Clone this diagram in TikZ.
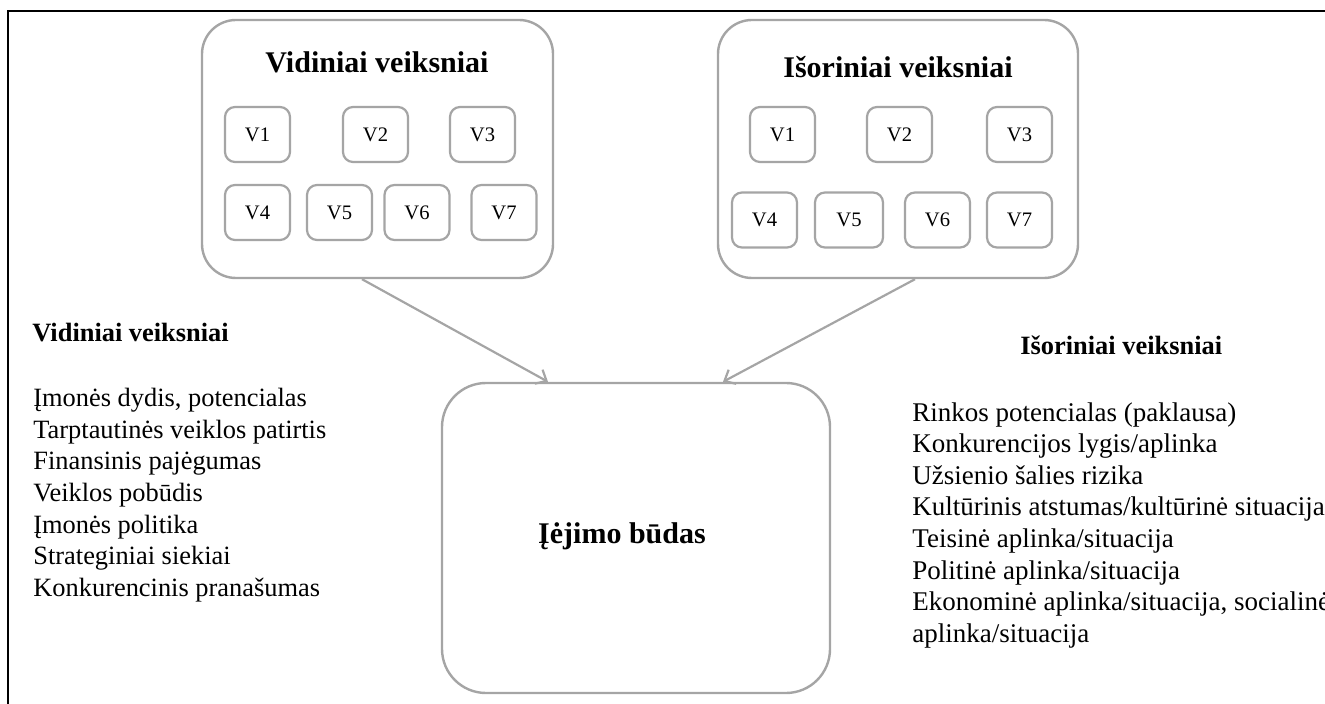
\documentclass[tikz,border=0pt]{standalone}
\usepackage{fontspec}
\setmainfont{Liberation Serif}
\usetikzlibrary{arrows.meta}
\definecolor{boxgray}{RGB}{165,165,165}
\begin{document}
\begin{tikzpicture}[x=0.5pt,y=-0.5pt,
  bigbox/.style={draw=boxgray, line width=1.2pt, rounded corners=17pt, fill=white, inner sep=0pt},
  vbox/.style={draw=boxgray, line width=1.1pt, rounded corners=5pt, minimum width=32.5pt, minimum height=27.5pt, inner sep=0pt, font=\fontsize{10.3}{12}\selectfont},
  title/.style={font=\fontsize{15}{18}\selectfont\bfseries, anchor=base, inner sep=0pt},
  head/.style={font=\fontsize{13.2}{15.8}\selectfont\bfseries, anchor=base west, inner sep=0pt},
  list/.style={font=\fontsize{13.2}{15.8}\selectfont, align=left, anchor=north west, inner sep=0pt},
  arr/.style={draw=boxgray, line width=1.1pt, -{Straight Barb[length=4.5pt,width=8pt]}}
]
\useasboundingbox (0,0) rectangle (1325,704);
\clip (0,0) rectangle (1325,704);
% frame
\coordinate (f1) at (8,704);
\coordinate (f2) at (8,11);
\coordinate (f3) at (1325,11);
\draw[line width=1pt, line join=miter] (f1) -- (f2) -- (f3);

% left group
\node[bigbox, minimum width=175.5pt, minimum height=129pt] (L) at (377.5,149) {};
\node[title] (Lt) at (377,73) {Vidiniai veiksniai};
\node[vbox] (L1) at (257.5,134.5) {V1};
\node[vbox] (L2) at (375.5,134.5) {V2};
\node[vbox] (L3) at (482.5,134.5) {V3};
\node[vbox] (L4) at (257.5,212.5) {V4};
\node[vbox] (L5) at (339.5,212.5) {V5};
\node[vbox] (L6) at (417,212.5) {V6};
\node[vbox] (L7) at (504,212.5) {V7};

% right group
\node[bigbox, minimum width=180pt, minimum height=129pt] (R) at (898,149) {};
\node[title] (Rt) at (898,78) {Išoriniai veiksniai};
\node[vbox] (R1) at (782.5,134.5) {V1};
\node[vbox] (R2) at (899.5,134.5) {V2};
\node[vbox] (R3) at (1019.5,134.5) {V3};
\node[vbox] (R4) at (764.5,220) {V4};
\node[vbox, minimum width=34pt] (R5) at (849,220) {V5};
\node[vbox] (R6) at (937.5,220) {V6};
\node[vbox] (R7) at (1019.5,220) {V7};

% centre
\node[bigbox, rounded corners=22pt, minimum width=194pt, minimum height=155pt] (C) at (636,538) {};
\node[title] (Ct) at (622,543) {Įėjimo būdas};

\draw[arr] ([xshift=-7.75pt]L.south) -- ([xshift=-44pt]C.north);
\draw[arr] ([xshift=8.5pt]R.south) -- ([xshift=43.5pt]C.north);

% left text
\node[head] (Lh) at (32,342) {Vidiniai veiksniai};
\node[list] (Ll) at (33,388) {Įmonės dydis, potencialas\\
Tarptautinės veiklos patirtis\\
Finansinis pajėgumas\\
Veiklos pobūdis\\
Įmonės politika\\
Strateginiai siekiai\\
Konkurencinis pranašumas};

% right text
\node[head] (Rh) at (1020,355) {Išoriniai veiksniai};
\node[list, font=\fontsize{13.5}{15.8}\selectfont] (Rl) at (912,402) {Rinkos potencialas (paklausa)\\
Konkurencijos lygis/aplinka\\
Užsienio šalies rizika\\
Kultūrinis atstumas/kultūrinė situacija\\
Teisinė aplinka/situacija\\
Politinė aplinka/situacija\\
Ekonominė aplinka/situacija, socialinė\\
aplinka/situacija};
\end{tikzpicture}
\end{document}
